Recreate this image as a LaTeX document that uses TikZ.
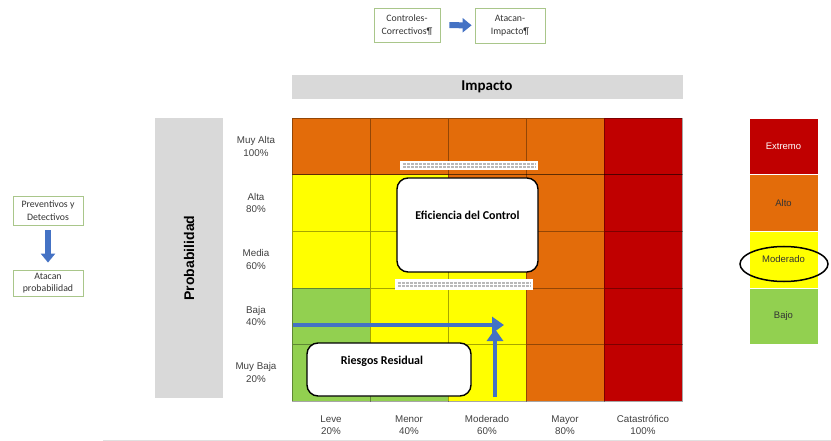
\documentclass[tikz,border=0pt]{standalone}
\usepackage{fontspec}
\setmainfont{Liberation Sans}
\newfontfamily\calibri{Carlito}
\usepackage{tikz}
\usetikzlibrary{shapes.geometric,arrows.meta}
\definecolor{rojo}{HTML}{C00000}
\definecolor{naranja}{HTML}{E36C0A}
\definecolor{amarillo}{HTML}{FFFF00}
\definecolor{verde}{HTML}{92D050}
\definecolor{gris}{HTML}{D9D9D9}
\definecolor{azul}{HTML}{4472C4}
\definecolor{borde}{HTML}{A9C68A}

\begin{document}
\begin{tikzpicture}[x=1pt,y=-1pt,
    celda/.style={minimum width=78pt,minimum height=56.6pt,inner sep=0pt,draw=black,draw opacity=0.35,line width=0.6pt},
    etiq/.style={align=center,text=black!75,font=\fontsize{9.8}{12.5}\selectfont},
    leyenda/.style={minimum width=69pt,minimum height=56.6pt,inner sep=0pt,draw=white,line width=0.4pt,font=\fontsize{9.5}{12}\selectfont},
    nota/.style={draw=borde,line width=0.8pt,align=center,inner sep=0pt,text=black!80,font=\calibri\fontsize{9.8}{12.5}\selectfont},
    caja/.style={draw,line width=1.4pt,rounded corners=11pt,fill=white,inner sep=0pt},
    barra/.style={fill=white,inner sep=0pt},
    flecha/.style={azul,line width=4.5pt,-{Triangle[length=12pt,width=16pt]}},
    bloque/.style={azul,line width=6pt,-{Triangle[length=9pt,width=14pt]}}]

    \useasboundingbox (0,0) rectangle (831,441);

    \node[nota,minimum width=66pt,minimum height=34pt] (ctrl) at (407,25) {Controles-\\Correctivos¶};
    \node[nota,minimum width=70pt,minimum height=35pt] (atacanI) at (510,25.5) {Atacan-\\Impacto¶};
    \draw[bloque,shorten <=9pt,shorten >=3pt] (ctrl) -- (atacanI);

    \node[nota,minimum width=70pt,minimum height=29pt] (prev) at (48,210.5) {Preventivos y\\Detectivos};
    \node[nota,minimum width=70pt,minimum height=26pt] (atacanP) at (48,283) {Atacan\\probabilidad};
    \draw[bloque,shorten <=5pt,shorten >=7pt] (prev) -- (atacanP);

    \node[fill=gris,minimum width=391pt,minimum height=24pt] (impacto) at (487,87)
        {\calibri\bfseries\fontsize{15}{17}\selectfont Impacto};
    \node[fill=gris,rotate=90,minimum width=280pt,minimum height=68pt] (prob) at (189,258)
        {\bfseries\fontsize{14}{16}\selectfont Probabilidad};

    \foreach \c [count=\k] in {naranja,naranja,naranja,naranja,rojo}
        \node[celda,fill=\c] (c-1-\k) at ({292+78*(\k-0.5)},{118+56.6*0.5}) {};
    \foreach \c [count=\k] in {amarillo,amarillo,naranja,naranja,rojo}
        \node[celda,fill=\c] (c-2-\k) at ({292+78*(\k-0.5)},{118+56.6*1.5}) {};
    \foreach \c [count=\k] in {amarillo,amarillo,amarillo,naranja,rojo}
        \node[celda,fill=\c] (c-3-\k) at ({292+78*(\k-0.5)},{118+56.6*2.5}) {};
    \foreach \c [count=\k] in {verde,amarillo,amarillo,naranja,rojo}
        \node[celda,fill=\c] (c-4-\k) at ({292+78*(\k-0.5)},{118+56.6*3.5}) {};
    \foreach \c [count=\k] in {verde,verde,amarillo,naranja,rojo}
        \node[celda,fill=\c] (c-5-\k) at ({292+78*(\k-0.5)},{118+56.6*4.5}) {};

    \foreach \t [count=\r] in {{Muy Alta\\100\%},{Alta\\80\%},{Media\\60\%},{Baja\\40\%},{Muy Baja\\20\%}}
        \node[etiq] (p-\r) at (256,{118+56.6*(\r-0.5)}) {\t};
    \foreach \t [count=\k] in {{Leve\\20\%},{Menor\\40\%},{Moderado\\60\%},{Mayor\\80\%},{Catastrófico\\100\%}}
        \node[etiq] (i-\k) at ({292+78*(\k-0.5)},425) {\t};

    \node[leyenda,fill=rojo,text=white] (l-1) at (783.5,146.3) {Extremo};
    \node[leyenda,fill=naranja,text=black!80] (l-2) at (783.5,202.9) {Alto};
    \node[leyenda,fill=amarillo,text=black!80] (l-3) at (783.5,259.5) {Moderado};
    \node[leyenda,fill=verde,text=black!80] (l-4) at (783.5,316.1) {Bajo};
    \node[ellipse,draw,line width=1.5pt,minimum width=88pt,minimum height=35pt] (marca) at (784,264) {};

    \node[barra,minimum width=138pt,minimum height=9pt] (b-1) at (469,165.5) {};
    \node[barra,minimum width=138pt,minimum height=11pt] (b-2) at (464,284.5) {};
    \foreach \b in {b-1,b-2}
        \draw[gray!55,line width=2pt,dash pattern=on 3pt off 1pt,double=white,double distance=0.6pt]
            ([xshift=3pt]\b.west) -- ([xshift=-3pt]\b.east);

    \node[caja,minimum width=141pt,minimum height=94pt] (efic) at (467.5,225) {};
    \node[font=\calibri\bfseries\fontsize{12}{14}\selectfont] (eficT) at (467.5,215) {Eficiencia del Control};
    \node[caja,minimum width=164pt,minimum height=53pt] (resid) at (389,369.5) {};
    \node[font=\calibri\bfseries\fontsize{12}{14}\selectfont] (residT) at (382,361) {Riesgos Residual};

    \coordinate (h-ini) at (293,325);
    \coordinate (h-fin) at (504,325);
    \coordinate (v-ini) at (495,397);
    \coordinate (v-fin) at (495,329);
    \draw[flecha] (h-ini) -- (h-fin);
    \draw[flecha] (v-ini) -- (v-fin);

    \draw[black!12,line width=0.8pt] (103,440) -- (831,440);
\end{tikzpicture}
\end{document}
